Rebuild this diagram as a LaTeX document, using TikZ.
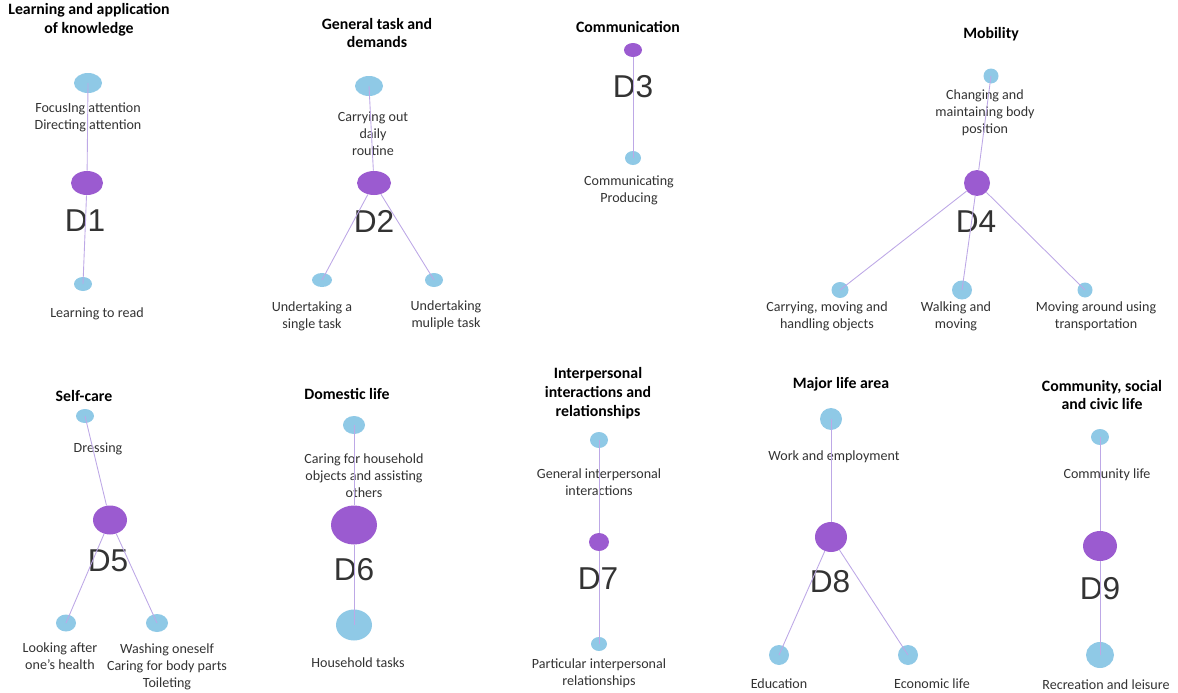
\documentclass[tikz,border=0pt]{standalone}
\usepackage{fontspec}
\setmainfont{Carlito}
\newfontfamily\dfont{Liberation Sans}
\usepackage{tikz}
\usetikzlibrary{shapes.geometric}

\definecolor{leafblue}{HTML}{8FC9E6}
\definecolor{hubpurple}{HTML}{9B5BD0}
\definecolor{linkpurple}{HTML}{BDA8E6}

\begin{document}
\begin{tikzpicture}[x=0.02cm,y=-0.02cm,
  leaf/.style 2 args={ellipse,fill=leafblue,inner sep=0pt,minimum width={#1*0.02cm},minimum height={#2*0.02cm}},
  hub/.style 2 args={ellipse,fill=hubpurple,inner sep=0pt,minimum width={#1*0.02cm},minimum height={#2*0.02cm}},
  lbl/.style={font=\fontsize{8}{9.7}\selectfont,align=center,text=black!80},
  ttl/.style={font=\bfseries\fontsize{9}{10.8}\selectfont,align=center},
  dname/.style={font=\dfont\fontsize{18}{18}\selectfont,text=black!80},
  link/.style={draw=linkpurple,line width=0.5pt}]
  \useasboundingbox (0,0) rectangle (1178,693);
  % D1 learning
  \node[ttl] (t1) at (89,20) {Learning and application\\of knowledge};
  \node[leaf={28}{20}] (a1) at (88,83) {};
  \node[lbl] (la1) at (88,117) {FocusIng attention\\Directing attention};
  \node[leaf={18}{14}] (b1) at (83,284) {};
  \node[lbl] (lb1) at (97,314) {Learning to read};
  \node[hub={32}{24}] (d1) at (87,183) {};
  \node[dname] (n1) at (85,221) {D1};
  \draw[link] (d1) -- (a1.center);
  \draw[link] (d1) -- (b1.center);
  % D2 general tasks
  \node[ttl] (t2) at (377,33) {General task and\\demands};
  \node[leaf={28}{20}] (a2) at (369,86) {};
  \node[lbl] (la2) at (373,134) {Carrying out\\daily\\routine};
  \node[leaf={20}{14}] (b2) at (322,280) {};
  \node[lbl] (lb2) at (312,316) {Undertaking a\\single task};
  \node[leaf={18}{14}] (c2) at (434,280) {};
  \node[lbl] (lc2) at (446,315) {Undertaking\\muliple task};
  \node[hub={34}{24}] (d2) at (374,183) {};
  \node[dname] (n2) at (374,221) {D2};
  \draw[link] (d2) -- (a2.center);
  \draw[link] (d2) -- (b2.center);
  \draw[link] (d2) -- (c2.center);
  % D3 communication
  \node[ttl] (t3) at (628,27) {Communication};
  \node[leaf={16}{14}] (a3) at (633,158) {};
  \node[lbl] (la3) at (629,190) {Communicating\\Producing};
  \node[hub={18}{14}] (d3) at (633,50) {};
  \node[dname] (n3) at (633,87) {D3};
  \draw[link] (d3) -- (a3.center);
  % D4 mobility
  \node[ttl] (t4) at (991,34) {Mobility};
  \node[leaf={15}{15}] (a4) at (991,76) {};
  \node[lbl] (la4) at (985,113) {Changing and\\maintaining body\\position};
  \node[leaf={17}{16}] (b4) at (840,290) {};
  \node[lbl] (lb4) at (827,316) {Carrying, moving and\\handling objects};
  \node[leaf={20}{19}] (c4) at (962,290) {};
  \node[lbl] (lc4) at (956,316) {Walking and\\moving};
  \node[leaf={15}{15}] (e4) at (1085,290) {};
  \node[lbl] (le4) at (1096,316) {Moving around using\\transportation};
  \node[hub={26}{26}] (d4) at (977,183) {};
  \node[dname] (n4) at (976,222) {D4};
  \draw[link] (d4) -- (a4.center);
  \draw[link] (d4) -- (b4.center);
  \draw[link] (d4) -- (c4.center);
  \draw[link] (d4) -- (e4.center);
  % D5 self-care
  \node[ttl] (t5) at (84,396) {Self-care};
  \node[leaf={18}{14}] (a5) at (85,416) {};
  \node[lbl] (la5) at (98,449) {Dressing};
  \node[leaf={20}{17}] (b5) at (66,623) {};
  \node[lbl] (lb5) at (60,656) {Looking after\\one's health};
  \node[leaf={22}{18}] (c5) at (157,623) {};
  \node[lbl] (lc5) at (167,667) {Washing oneself\\Caring for body parts\\Toileting};
  \node[hub={34}{29}] (d5) at (110,520) {};
  \node[dname] (n5) at (108,561) {D5};
  \draw[link] (d5) -- (a5.center);
  \draw[link] (d5) -- (b5.center);
  \draw[link] (d5) -- (c5.center);
  % D6 domestic life
  \node[ttl] (t6) at (347,394) {Domestic life};
  \node[leaf={22}{18}] (a6) at (354,425) {};
  \node[lbl] (la6) at (364,476) {Caring for household\\objects and assisting\\others};
  \node[leaf={36}{31}] (b6) at (354,625) {};
  \node[lbl] (lb6) at (358,663) {Household tasks};
  \node[hub={46}{39}] (d6) at (354,525) {};
  \node[dname] (n6) at (354,570) {D6};
  \draw[link] (d6) -- (a6.center);
  \draw[link] (d6) -- (b6.center);
  % D7 interpersonal
  \node[ttl] (t7) at (598,393) {Interpersonal\\interactions and\\relationships};
  \node[leaf={18}{16}] (a7) at (599,440) {};
  \node[lbl] (la7) at (599,482) {General interpersonal\\interactions};
  \node[leaf={16}{14}] (b7) at (599,644) {};
  \node[lbl] (lb7) at (599,673) {Particular interpersonal\\relationships};
  \node[hub={20}{18}] (d7) at (599,542) {};
  \node[dname] (n7) at (598,579) {D7};
  \draw[link] (d7) -- (a7.center);
  \draw[link] (d7) -- (b7.center);
  % D8 major life
  \node[ttl] (t8) at (841,384) {Major life area};
  \node[leaf={22}{22}] (a8) at (831,419) {};
  \node[lbl] (la8) at (834,457) {Work and employment};
  \node[leaf={20}{20}] (b8) at (779,655) {};
  \node[lbl] (lb8) at (779,684) {Education};
  \node[leaf={20}{20}] (c8) at (908,655) {};
  \node[lbl] (lc8) at (932,684) {Economic life};
  \node[hub={32}{30}] (d8) at (831,537) {};
  \node[dname] (n8) at (830,582) {D8};
  \draw[link] (d8) -- (a8.center);
  \draw[link] (d8) -- (b8.center);
  \draw[link] (d8) -- (c8.center);
  % D9 community
  \node[ttl] (t9) at (1102,395) {Community, social\\and civic life};
  \node[leaf={18}{16}] (a9) at (1100,437) {};
  \node[lbl] (la9) at (1107,475) {Community life};
  \node[leaf={28}{26}] (b9) at (1100,655) {};
  \node[lbl] (lb9) at (1106,685) {Recreation and leisure};
  \node[hub={34}{30}] (d9) at (1100,546) {};
  \node[dname] (n9) at (1100,589) {D9};
  \draw[link] (d9) -- (a9.center);
  \draw[link] (d9) -- (b9.center);
\end{tikzpicture}
\end{document}
